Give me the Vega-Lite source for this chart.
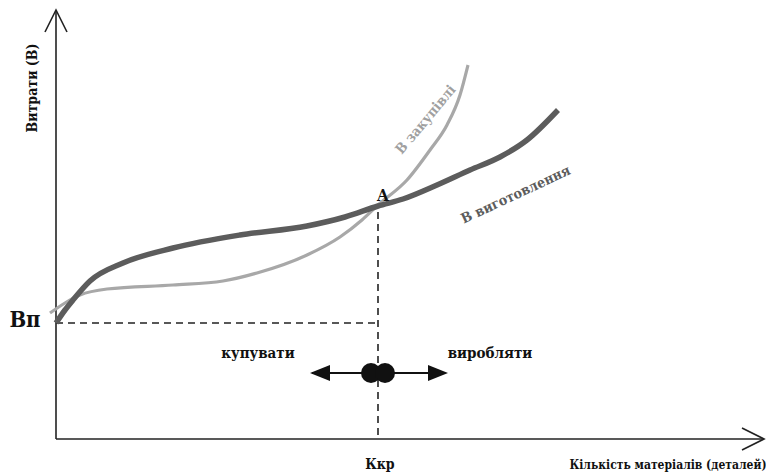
{
  "$schema": "https://vega.github.io/schema/vega-lite/v6.json",
  "width": 766,
  "height": 476,
  "autosize": {"type": "none"},
  "padding": 0,
  "background": "white",
  "config": {"view": {"stroke": null}},
  "datasets": {
    "curves": [
      {"curve": "make", "x": 56, "y": 323},
      {"curve": "make", "x": 65, "y": 310},
      {"curve": "make", "x": 73, "y": 300},
      {"curve": "make", "x": 90, "y": 281},
      {"curve": "make", "x": 123, "y": 263},
      {"curve": "make", "x": 173, "y": 248},
      {"curve": "make", "x": 240, "y": 235},
      {"curve": "make", "x": 307, "y": 226},
      {"curve": "make", "x": 345, "y": 217},
      {"curve": "make", "x": 378, "y": 206},
      {"curve": "make", "x": 403, "y": 199},
      {"curve": "make", "x": 437, "y": 185},
      {"curve": "make", "x": 470, "y": 170},
      {"curve": "make", "x": 500, "y": 157},
      {"curve": "make", "x": 527, "y": 140},
      {"curve": "make", "x": 558, "y": 110},
      {"curve": "buy", "x": 50, "y": 313},
      {"curve": "buy", "x": 65, "y": 303},
      {"curve": "buy", "x": 80, "y": 295},
      {"curve": "buy", "x": 107, "y": 289},
      {"curve": "buy", "x": 173, "y": 285},
      {"curve": "buy", "x": 223, "y": 281},
      {"curve": "buy", "x": 257, "y": 273},
      {"curve": "buy", "x": 307, "y": 255},
      {"curve": "buy", "x": 340, "y": 237},
      {"curve": "buy", "x": 362, "y": 220},
      {"curve": "buy", "x": 378, "y": 205},
      {"curve": "buy", "x": 407, "y": 180},
      {"curve": "buy", "x": 430, "y": 150},
      {"curve": "buy", "x": 447, "y": 125},
      {"curve": "buy", "x": 460, "y": 95},
      {"curve": "buy", "x": 468, "y": 65}
    ],
    "heads": [
      {"head": "up", "k": 1, "x": 45, "y": 32},
      {"head": "up", "k": 2, "x": 56, "y": 10},
      {"head": "up", "k": 3, "x": 67, "y": 32},
      {"head": "right", "k": 1, "x": 742, "y": 428},
      {"head": "right", "k": 2, "x": 764, "y": 439},
      {"head": "right", "k": 3, "x": 742, "y": 450}
    ]
  },
  "encoding": {
    "x": {"type": "quantitative", "scale": {"domain": [0, 766], "nice": false, "zero": false}, "axis": null},
    "y": {"type": "quantitative", "scale": {"domain": [0, 476], "nice": false, "zero": false, "reverse": true}, "axis": null}
  },
  "layer": [
    {
      "data": {"values": [
        {"x": 56, "y": 439, "x2": 56, "y2": 11},
        {"x": 56, "y": 439, "x2": 763, "y2": 439}
      ]},
      "mark": {"type": "rule", "color": "#222", "strokeWidth": 1.6},
      "encoding": {"x": {"field": "x"}, "y": {"field": "y"}, "x2": {"field": "x2"}, "y2": {"field": "y2"}}
    },
    {
      "data": {"name": "heads"},
      "mark": {"type": "line", "color": "#222", "strokeWidth": 1.6},
      "encoding": {"x": {"field": "x"}, "y": {"field": "y"}, "detail": {"field": "head"}, "order": {"field": "k"}}
    },
    {
      "data": {"values": [
        {"x": 56, "y": 323, "x2": 378, "y2": 323},
        {"x": 378, "y": 212, "x2": 378, "y2": 440}
      ]},
      "mark": {"type": "rule", "color": "#222", "strokeWidth": 1.6, "strokeDash": [7, 5]},
      "encoding": {"x": {"field": "x"}, "y": {"field": "y"}, "x2": {"field": "x2"}, "y2": {"field": "y2"}}
    },
    {
      "data": {"name": "curves"},
      "transform": [{"filter": "datum.curve == 'buy'"}],
      "mark": {"type": "line", "color": "#a8a8a8", "strokeWidth": 3.2, "interpolate": "monotone"},
      "encoding": {"x": {"field": "x"}, "y": {"field": "y"}}
    },
    {
      "data": {"name": "curves"},
      "transform": [{"filter": "datum.curve == 'make'"}],
      "mark": {"type": "line", "color": "#5c5c5c", "strokeWidth": 5.5, "interpolate": "monotone"},
      "encoding": {"x": {"field": "x"}, "y": {"field": "y"}}
    },
    {
      "data": {"values": [{"x": 312, "y": 373, "x2": 440, "y2": 373}]},
      "mark": {"type": "rule", "color": "#111", "strokeWidth": 2},
      "encoding": {"x": {"field": "x"}, "y": {"field": "y"}, "x2": {"field": "x2"}, "y2": {"field": "y2"}}
    },
    {
      "data": {"values": [
        {"x": 320, "y": 373, "dir": "left"},
        {"x": 438, "y": 373, "dir": "right"}
      ]},
      "mark": {"type": "point", "filled": true, "color": "#111", "opacity": 1, "size": 400},
      "encoding": {
        "x": {"field": "x"}, "y": {"field": "y"},
        "shape": {"field": "dir", "type": "nominal", "scale": {"domain": ["left", "right"], "range": ["M1,-0.8L-1,0L1,0.8Z", "M-1,-0.8L1,0L-1,0.8Z"]}, "legend": null}
      }
    },
    {
      "data": {"values": [{"x": 371, "y": 373}, {"x": 385, "y": 373}]},
      "mark": {"type": "point", "filled": true, "shape": "circle", "color": "#111", "opacity": 1, "size": 400},
      "encoding": {"x": {"field": "x"}, "y": {"field": "y"}}
    },
    {
      "data": {"values": [
        {"x": 258, "y": 353, "t": "купувати", "s": 15, "a": 0, "c": "#111"},
        {"x": 490, "y": 353, "t": "виробляти", "s": 15, "a": 0, "c": "#111"},
        {"x": 25, "y": 320, "t": "Вп", "s": 22, "a": 0, "c": "#111"},
        {"x": 383, "y": 196, "t": "A", "s": 17, "a": 0, "c": "#111"},
        {"x": 380, "y": 465, "t": "Ккр", "s": 14, "a": 0, "c": "#111"},
        {"x": 668, "y": 465, "t": "Кількість матеріалів (деталей)", "s": 12, "a": 0, "c": "#111"},
        {"x": 33, "y": 88, "t": "Витрати (В)", "s": 14, "a": -90, "c": "#111"},
        {"x": 426, "y": 120, "t": "В закупівлі", "s": 14, "a": -50, "c": "#a0a0a0"},
        {"x": 516, "y": 195, "t": "В виготовлення", "s": 14, "a": -25, "c": "#5c5c5c"}
      ]},
      "mark": {"type": "text", "font": "DejaVu Serif Condensed", "fontWeight": "bold", "baseline": "middle", "align": "center"},
      "encoding": {
        "x": {"field": "x"}, "y": {"field": "y"},
        "text": {"field": "t"},
        "size": {"field": "s", "type": "quantitative", "scale": null},
        "angle": {"field": "a", "type": "quantitative", "scale": null},
        "color": {"field": "c", "type": "nominal", "scale": null}
      }
    }
  ]
}
